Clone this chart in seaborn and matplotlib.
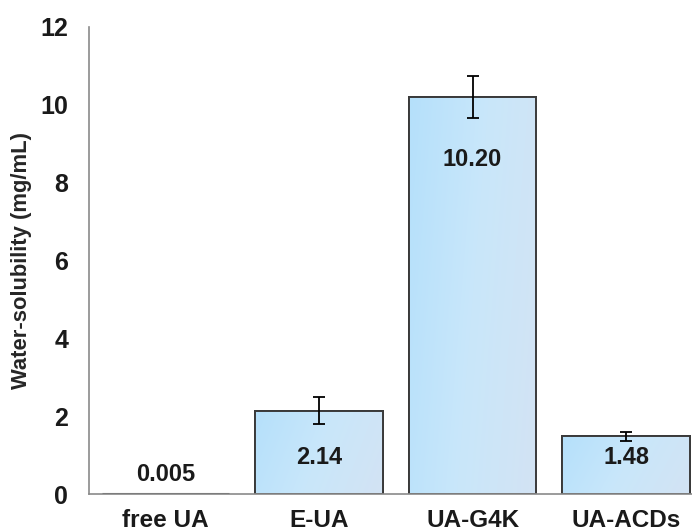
import numpy as np
import pandas as pd
import matplotlib
matplotlib.use("Agg")
import matplotlib.pyplot as plt
import seaborn as sns
from matplotlib.colors import LinearSegmentedColormap

categories = ["free UA", "E-UA", "UA-G4K", "UA-ACDs"]
solubility = [0.005, 2.14, 10.20, 1.48]
errors = [0.0, 0.34, 0.55, 0.11]
value_labels = ["0.005", "2.14", "10.20", "1.48"]
y_ticks = [0, 2, 4, 6, 8, 10, 12]

sns.set_style("white")
plt.rcParams["font.family"] = ["Liberation Sans", "DejaVu Sans"]
plt.rcParams["font.weight"] = "bold"

df = pd.DataFrame({"sample": categories, "solubility": solubility})

fig = plt.figure(figsize=(6.92, 5.32), dpi=100)
ax = fig.add_axes([89 / 692, 38 / 532, 1 - 89 / 692, (494 - 27) / 532])

sns.barplot(data=df, x="sample", y="solubility", ax=ax, width=0.83,
            color="#c2e4f9", edgecolor="#3a3a3a", linewidth=1.4,
            saturation=1, errorbar=None, zorder=2)

# soft blue-to-lavender diagonal gradient inside each bar
cmap = LinearSegmentedColormap.from_list("bar", ["#b5e0fb", "#c9e7fa", "#d3e3f4"])
gx, gy = np.meshgrid(np.linspace(0, 1, 128), np.linspace(0, 1, 128))
grad = 0.8 * gx + 0.2 * (1 - gy)
for patch in ax.patches:
    x0, y0 = patch.get_x(), patch.get_y()
    w, h = patch.get_width(), patch.get_height()
    if h < 0.05:
        patch.set_linewidth(2.2)
        continue
    im = ax.imshow(grad, cmap=cmap, aspect="auto", extent=(x0, x0 + w, y0, y0 + h),
                   origin="lower", zorder=2.1, interpolation="bicubic")
    im.set_clip_path(patch)
    edge = plt.Rectangle((x0, y0), w, h, fill=False, edgecolor="#3a3a3a",
                         linewidth=1.4, zorder=2.2)
    ax.add_patch(edge)

xs = np.arange(len(categories))
for x, v, e in zip(xs, solubility, errors):
    if e > 0:
        ax.errorbar(x, v, yerr=e, fmt="none", ecolor="black", elinewidth=1.3,
                    capsize=4, capthick=1.3, zorder=3)

for x, v, lab in zip(xs, solubility, value_labels):
    if v < 0.1:
        ty = v + 0.5
    elif v > 5:
        ty = v - 1.6
    else:
        ty = 0.95
    ax.text(x, ty, lab, ha="center", va="center", fontsize=17, fontweight="bold",
            color="#1a1a1a", zorder=4)

ax.set_xlim(-0.5, 3.43)
ax.set_ylim(0, 12)
ax.set_yticks(y_ticks)
ax.set_yticklabels([str(t) for t in y_ticks])
ax.set_xlabel("")
ax.set_ylabel("Water-solubility (mg/mL)", fontsize=15.8, fontweight="bold", labelpad=6)

for side in ["top", "right"]:
    ax.spines[side].set_visible(False)
for side in ["left", "bottom"]:
    ax.spines[side].set_color("#8a8a8a")
    ax.spines[side].set_linewidth(1.2)

ax.tick_params(axis="y", direction="out", length=8, width=1.2, color="#8a8a8a",
               labelsize=18, pad=7)
ax.tick_params(axis="x", length=0, labelsize=17.5, pad=11)
for lab in ax.get_xticklabels() + ax.get_yticklabels():
    lab.set_fontweight("bold")
    lab.set_color("#1a1a1a")

fig.savefig("out.png", dpi=100)
